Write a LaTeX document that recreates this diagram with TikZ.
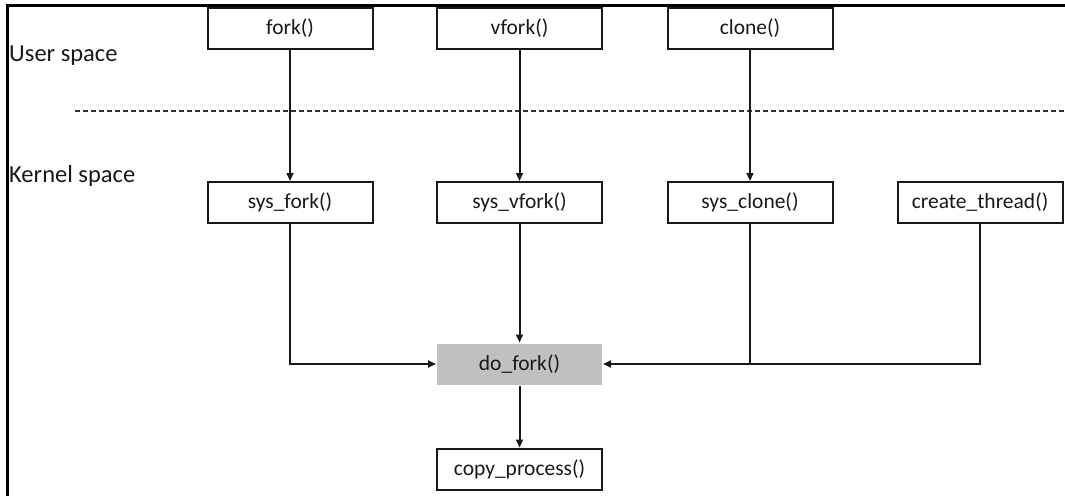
\documentclass[tikz,border=0pt]{standalone}
\usepackage{fontspec}
\setmainfont{Carlito}
\usetikzlibrary{arrows.meta}
\definecolor{dofill}{RGB}{192,192,192}
\definecolor{linec}{RGB}{25,25,25}
\begin{document}
\begin{tikzpicture}[x=1pt,y=-1pt,
  box/.style={draw=linec, line width=2pt, minimum width=165pt, minimum height=41pt, inner sep=0pt, font=\fontsize{21.5}{24}\selectfont, text=black!90},
  conn/.style={draw=linec, line width=2pt, -{Triangle[length=8pt,width=7pt]}},
  plain/.style={draw=linec, line width=2pt},
  lbl/.style={anchor=west, inner sep=0pt, font=\fontsize{24.5}{28}\selectfont, text=black!90}]
\useasboundingbox (0,0) rectangle (1065,496);
\fill[white] (0,0) rectangle (1065,496);
% frame
\draw[line width=3pt, black] (7.5,496) -- (7.5,5.5) -- (1065,5.5);
% separator
\draw[dashed, line width=1.3pt, black!80, dash pattern=on 5pt off 3pt] (75,111) -- (1065,111);
% labels
\node[lbl] (us) at (9,56) {User space};
\node[lbl] (ks) at (9,176) {Kernel space};
% boxes
\node[box] (fork) at (290,28) {fork()};
\node[box] (vfork) at (519.5,28) {vfork()};
\node[box] (clone) at (750,28) {clone()};
\node[box] (sfork) at (290,202.5) {sys\_fork()};
\node[box] (svfork) at (519.5,202.5) {sys\_vfork()};
\node[box] (sclone) at (750,202.5) {sys\_clone()};
\node[box] (cthread) at (980,202.5) {create\_thread()};
\node[box, draw=none, fill=dofill] (dofork) at (519.5,364) {do\_fork()};
\node[box] (copy) at (519.5,469) {copy\_process()};
% connectors
\draw[conn] (fork) -- (sfork);
\draw[conn] (vfork) -- (svfork);
\draw[conn] (clone) -- (sclone);
\draw[conn] (svfork) -- (dofork);
\draw[conn] (sfork.south) |- (dofork.west);
\coordinate (j1) at (sclone.south |- dofork.east);
\draw[plain] (sclone.south) -- (j1);
\draw[conn] (cthread.south) |- (dofork.east);
\draw[conn] (dofork) -- (copy);
\end{tikzpicture}
\end{document}
